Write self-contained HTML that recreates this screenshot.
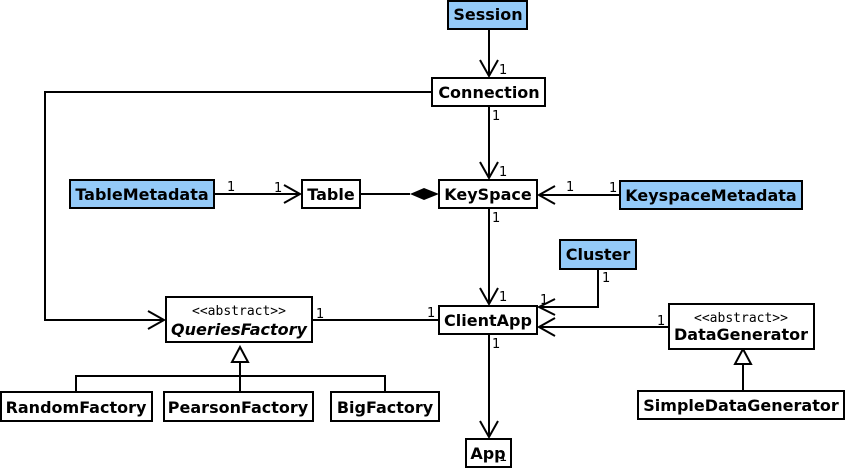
<!DOCTYPE html>
<html><head><meta charset="utf-8"><style>
html,body{margin:0;padding:0;background:#fff;}
svg{display:block;}
</style></head><body>
<svg width="855" height="470" viewBox="0 0 855 470" xmlns="http://www.w3.org/2000/svg">
<g fill="none" stroke="#000" stroke-width="2">
<path d="M489 29V76"/><path d="M480 60l9 16l9-16"/>
<path d="M489 106V178"/><path d="M480 162l9 16l9-16"/>
<path d="M489 208V304"/><path d="M480 288l9 16l9-16"/>
<path d="M489 334V437"/><path d="M480 421l9 16l9-16"/>
<path d="M432 92H45V320H164"/><path d="M148 311l16 9l-16 9"/>
<path d="M214 194H300"/><path d="M284 185l16 9l-16 9"/>
<path d="M360 194H410"/>
<path d="M620 195H539"/><path d="M555 186l-16 9l16 9"/>
<path d="M598 269V307H539"/><path d="M555 299l-16 8l16 8"/>
<path d="M669 327H539"/><path d="M555 318l-16 9l16 9"/>
<path d="M312 320H439"/>
<path d="M76 392V376H385V392"/><path d="M240 392V362"/>
<path d="M743 391V364"/>
</g>
<path d="M410 194l14-6l15 6l-15 6z" fill="#000"/>
<path d="M232 362l8-15l8 15z" fill="#fff" stroke="#000" stroke-width="2"/>
<path d="M735 364l8-15l8 15z" fill="#fff" stroke="#000" stroke-width="2"/>
<g stroke="#000" stroke-width="2">
<rect x="448" y="1" width="79" height="28" fill="#94caf8"/>
<rect x="432" y="78" width="113" height="28" fill="#fff"/>
<rect x="439" y="180" width="98" height="28" fill="#fff"/>
<rect x="620" y="181" width="182" height="28" fill="#94caf8"/>
<rect x="302" y="180" width="58" height="28" fill="#fff"/>
<rect x="70" y="180" width="144" height="28" fill="#94caf8"/>
<rect x="560" y="240" width="76" height="29" fill="#94caf8"/>
<rect x="439" y="306" width="98" height="28" fill="#fff"/>
<rect x="166" y="297" width="146" height="45" fill="#fff"/>
<rect x="669" y="304" width="145" height="45" fill="#fff"/>
<rect x="638" y="391" width="206" height="28" fill="#fff"/>
<rect x="1" y="392" width="151" height="29" fill="#fff"/>
<rect x="164" y="392" width="149" height="29" fill="#fff"/>
<rect x="331" y="392" width="108" height="29" fill="#fff"/>
<rect x="466" y="439" width="45" height="28" fill="#fff"/>
</g>
<g font-family="DejaVu Sans, Liberation Sans, sans-serif" font-weight="bold" font-size="16" text-anchor="middle">
<text x="488" y="20">Session</text>
<text x="489" y="98">Connection</text>
<text x="488" y="200">KeySpace</text>
<text x="711" y="201">KeyspaceMetadata</text>
<text x="331" y="200">Table</text>
<text x="142" y="200">TableMetadata</text>
<text x="598" y="260">Cluster</text>
<text x="488" y="326">ClientApp</text>
<text x="239" y="335" font-style="italic">QueriesFactory</text>
<text x="741" y="340">DataGenerator</text>
<text x="741" y="411">SimpleDataGenerator</text>
<text x="76" y="413">RandomFactory</text>
<text x="238" y="413">PearsonFactory</text>
<text x="385" y="413">BigFactory</text>
<text x="488" y="459">App</text>
</g>
<g font-family="DejaVu Sans Mono, Liberation Mono, monospace" font-size="13" text-anchor="middle">
<text x="239" y="315">&lt;&lt;abstract&gt;&gt;</text>
<text x="741" y="322">&lt;&lt;abstract&gt;&gt;</text>
</g>
<g font-family="DejaVu Sans, Liberation Sans, sans-serif" font-size="13">
<text x="499" y="74">1</text>
<text x="492" y="120">1</text>
<text x="499" y="176">1</text>
<text x="492" y="222">1</text>
<text x="499" y="301">1</text>
<text x="492" y="348">1</text>
<text x="499" y="461">1</text>
<text x="227" y="191">1</text>
<text x="274" y="192">1</text>
<text x="566" y="191">1</text>
<text x="609" y="192">1</text>
<text x="602" y="282">1</text>
<text x="540" y="304">1</text>
<text x="657" y="325">1</text>
<text x="316" y="318">1</text>
<text x="427" y="317">1</text>
</g>
</svg>
</body></html>
